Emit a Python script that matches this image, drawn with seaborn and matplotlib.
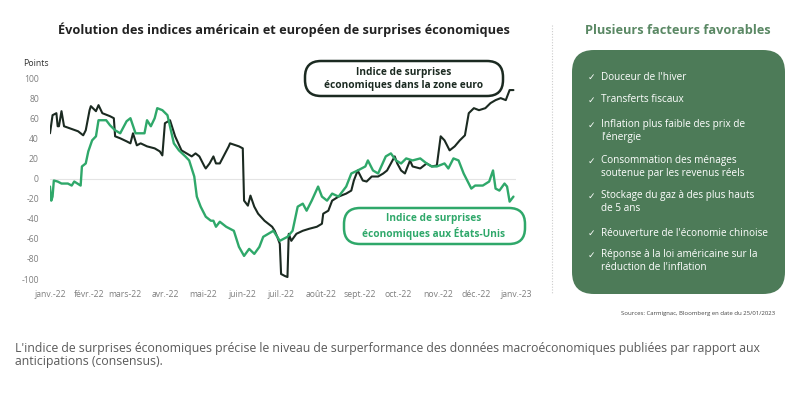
import numpy as np
import pandas as pd
import matplotlib.pyplot as plt
import seaborn as sns
from matplotlib.patches import FancyBboxPatch

# Values (day offset from 01/01/2022, points)
eu_days = [0, 2, 5, 6, 7, 9, 11, 22, 26, 28, 31, 32, 36, 38, 41, 47, 50, 51, 55, 60, 63, 65, 68,
           71, 76, 82, 86, 88, 90, 94, 98, 103, 107, 111, 114, 117, 121, 122, 125, 128, 130, 133,
           140, 141, 148, 151, 152, 155, 157, 160, 163, 168, 174, 176, 178, 180, 181, 184, 186,
           187, 189, 193, 198, 203, 209, 213, 214, 218, 221, 226, 232, 236, 238, 241, 245, 248,
           252, 257, 261, 264, 267, 270, 272, 275, 278, 282, 284, 290, 295, 299, 303, 306, 309,
           313, 317, 321, 325, 328, 332, 336, 341, 345, 349, 353, 357, 360, 363]
eu_vals = [45, 63, 65, 52, 52, 67, 52, 47, 43, 48, 68, 72, 67, 73, 65, 62, 60, 42, 40, 37, 35, 45, 33,
           35, 32, 30, 27, 23, 55, 58, 42, 28, 25, 22, 25, 22, 12, 10, 15, 22, 15, 15,
           32, 35, 32, 30, -22, -27, -17, -28, -35, -42, -48, -52, -58, -65, -95, -97, -98,
           -55, -62, -55, -52, -50, -48, -45, -35, -32, -22, -18, -15, -12, -2, 8, -2, -3,
           2, 2, 5, 8, 15, 22, 15, 8, 5, 18, 12, 10, 15, 12, 13, 42, 38,
           28, 32, 38, 43, 65, 70, 68, 70, 75, 78, 80, 78, 88, 88]

us_days = [0, 1, 2, 3, 6, 9, 14, 17, 19, 24, 25, 28, 30, 33, 36, 38, 44, 47, 51, 55, 60, 63, 67, 74,
           76, 79, 82, 84, 88, 92, 97, 101, 106, 109, 113, 115, 118, 122, 126, 128, 130, 133, 138,
           144, 148, 152, 156, 160, 164, 167, 171, 175, 180, 186, 190, 194, 198, 201, 205, 210,
           213, 217, 221, 226, 232, 236, 241, 247, 249, 253, 257, 263, 267, 271, 275, 279, 284,
           290, 295, 299, 303, 309, 312, 316, 320, 324, 328, 330, 333, 339, 344, 347, 349, 352,
           356, 358, 360, 363]
us_vals = [-8, -22, -18, -2, -3, -5, -5, -7, -3, -7, 12, 15, 27, 38, 42, 58, 58, 53, 48, 45, 57, 60, 45, 45,
           58, 52, 60, 70, 68, 63, 35, 28, 22, 18, 2, -18, -28, -38, -42, -42, -48, -43, -48,
           -52, -68, -77, -70, -75, -68, -58, -55, -52, -62, -58, -52, -28, -25, -32, -22, -8,
           -18, -22, -15, -18, -8, 5, 8, 12, 18, 8, 5, 22, 25, 18, 15, 20, 18,
           20, 15, 12, 12, 15, 10, 20, 18, 5, -5, -10, -7, -7, -3, 8, -10, -12,
           -5, -8, -23, -18]

month_labels = ['janv.-22', 'févr.-22', 'mars-22', 'avr.-22', 'mai-22', 'juin-22', 'juil.-22',
                'août-22', 'sept.-22', 'oct.-22', 'nov.-22', 'déc.-22', 'janv.-23']
y_ticks = [100, 80, 60, 40, 20, 0, -20, -40, -60, -80, -100]

factors = [
    "Douceur de l'hiver",
    "Transferts fiscaux",
    "Inflation plus faible des prix de\nl'énergie",
    "Consommation des ménages\nsoutenue par les revenus réels",
    "Stockage du gaz à des plus hauts\nde 5 ans",
    "Réouverture de l'économie chinoise",
    "Réponse à la loi américaine sur la\nréduction de l'inflation",
]

start = pd.Timestamp('2022-01-01')
df_eu = pd.DataFrame({'date': start + pd.to_timedelta(eu_days, unit='D'), 'val': eu_vals})
df_us = pd.DataFrame({'date': start + pd.to_timedelta(us_days, unit='D'), 'val': us_vals})

sns.set_theme(style='white')
plt.rcParams['font.family'] = ['Open Sans', 'DejaVu Sans']

BLACK = '#1b2a21'
GREEN = '#2fa86a'
PANEL = '#4d7b58'

fig = plt.figure(figsize=(8, 3.93), dpi=100)

# Main chart
ax = fig.add_axes([0.0625, 0.290, 0.5825, 0.5115])
ax.axhline(0, color='#e4e4e4', lw=0.8, zorder=0)
sns.lineplot(data=df_eu, x='date', y='val', color=BLACK, lw=1.5, ax=ax)
sns.lineplot(data=df_us, x='date', y='val', color=GREEN, lw=1.7, ax=ax)
ax.set_xlim(start, pd.Timestamp('2023-01-01'))
ax.set_ylim(-100, 100)
ticks = pd.date_range('2022-01-01', '2023-01-01', freq='MS')
ax.set_xticks(ticks)
ax.set_xticklabels(month_labels)
ax.set_yticks(y_ticks)
ax.set_yticklabels([str(v) for v in y_ticks])
ax.tick_params(axis='both', length=0, labelsize=6.2, labelcolor='#7f7f7f')
ax.tick_params(axis='x', pad=8)
ax.tick_params(axis='y', pad=8)
ax.set_xlabel('')
ax.set_ylabel('')
for s in ax.spines.values():
    s.set_visible(False)
ax.patch.set_visible(False)

# Overlay in pixel coordinates for boxes and texts
ov = fig.add_axes([0, 0, 1, 1])
ov.set_xlim(0, 800)
ov.set_ylim(393, 0)
ov.axis('off')

ov.text(284, 30, 'Évolution des indices américain et européen de surprises économiques',
        ha='center', va='center', fontsize=9.2, fontweight='bold', color='#222222')
ov.text(23, 63, 'Points', ha='left', va='center', fontsize=6.3, color='#333333')

ov.add_patch(FancyBboxPatch((305, 61), 198, 35, boxstyle='round,pad=0,rounding_size=16',
                            fc='white', ec=BLACK, lw=1.8))
ov.text(404, 79, 'Indice de surprises\néconomiques dans la zone euro', ha='center', va='center',
        fontsize=7.3, fontweight='bold', color=BLACK, linespacing=1.3)

ov.add_patch(FancyBboxPatch((344, 208), 181, 36, boxstyle='round,pad=0,rounding_size=16',
                            fc='white', ec=GREEN, lw=1.8))
ov.text(434, 226, 'Indice de surprises\néconomiques aux États-Unis', ha='center', va='center',
        fontsize=7.3, fontweight='bold', color=GREEN, linespacing=1.3)

# Separator and right panel
ov.plot([552, 552], [25, 293], ls=(0, (1, 1.5)), color='#cccccc', lw=0.8)
ov.text(678, 30, 'Plusieurs facteurs favorables', ha='center', va='center',
        fontsize=9.2, fontweight='bold', color='#5a8864')
ov.add_patch(FancyBboxPatch((572, 50), 213, 244, boxstyle='round,pad=0,rounding_size=22',
                            fc=PANEL, ec='none'))
bullet_y = [77, 100, 131, 167, 202, 233, 261]
for y, txt in zip(bullet_y, factors):
    two_lines = '\n' in txt
    ov.text(591, y - 6 if two_lines else y, '✓', ha='center', va='center', fontsize=6.5,
            color='white', family=['DejaVu Sans'])
    ov.text(601, y, txt, ha='left', va='center', fontsize=7.2, color='white', linespacing=1.3)

ov.text(775, 314, 'Sources: Carmignac, Bloomberg en date du 25/01/2023', ha='right', va='center',
        fontsize=4.3, color='#444444')

ov.text(15, 355, "L'indice de surprises économiques précise le niveau de surperformance des données "
        "macroéconomiques publiées par rapport aux\nanticipations (consensus).",
        ha='left', va='center', fontsize=8.8, color='#5a5a5a', linespacing=1.0)

plt.savefig('out.png', dpi=100)
